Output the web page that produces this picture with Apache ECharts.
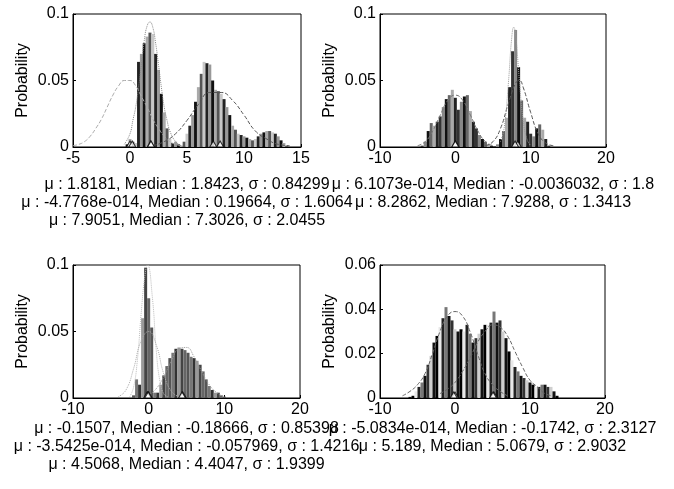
<!DOCTYPE html>
<html>
<head>
<meta charset="utf-8">
<script src="https://cdn.jsdelivr.net/npm/echarts@6/dist/echarts.min.js"></script>
<style>html,body{margin:0;padding:0;background:#fff}#c{width:674px;height:489px}</style>
</head>
<body>
<div id="c"></div>
<script>
// ---------- DATA ----------
// Plot 1 (top-left)
const p1BinX = [-0.25,0,0.25,0.5,0.75,1,1.25,1.5,1.75,2,2.25,2.5,2.75,3,3.25,3.5,3.75,4,4.25,4.5,4.75,5,5.25,5.5,5.75,6,6.25,6.5,6.75,7,7.25,7.5,7.75,8,8.25,8.5,8.75,9,9.25,9.5,9.75,10,10.25,10.5,10.75,11,11.25,11.5,11.75,12,12.25,12.5,12.75,13,13.25,13.5,13.75];
const p1BinY = [0.002,0.006,0.004,0.003,0.064,0.07,0.078,0.083,0.086,0.085,0.07,0.058,0.04,0.026,0.014,0.006,0.003,0.004,0.002,0.001,0.004,0.01,0.016,0.024,0.034,0.045,0.055,0.064,0.063,0.062,0.05,0.043,0.042,0.04,0.036,0.03,0.024,0.016,0.013,0.01,0.009,0.008,0.007,0.006,0.005,0.006,0.008,0.01,0.011,0.012,0.012,0.011,0.01,0.008,0.005,0.003,0.001];
const p1CurveAX = [-5,-4.5,-4,-3.5,-3,-2.5,-2,-1.5,-1,-0.5,0,0.5,1,1.5,2,2.5,3,3.5,4,4.5];
const p1CurveAY = [0.001,0.002,0.004,0.008,0.014,0.021,0.03,0.039,0.046,0.05,0.05,0.046,0.038,0.03,0.021,0.014,0.008,0.004,0.002,0.001];
const p1CurveBX = [-0.5,0,0.25,0.5,0.75,1,1.25,1.5,1.75,2,2.25,2.5,2.75,3,3.25,3.5,4,4.5];
const p1CurveBY = [0.002,0.01,0.02,0.03,0.045,0.062,0.08,0.091,0.094,0.09,0.078,0.062,0.045,0.03,0.02,0.012,0.004,0.001];
const p1CurveCX = [2,3,4,5,6,7,8,9,10,11,12,13,14];
const p1CurveCY = [0.001,0.004,0.01,0.02,0.032,0.041,0.041,0.035,0.024,0.012,0.006,0.002,0.001];
const p1Means = [1.8181, -4.7768e-14, 7.9051];
const p1Medians = [1.8423, 0.19664, 7.3026];

// Plot 2 (top-right)
const p2BinX = [-4.4,-4,-3.6,-3.2,-2.8,-2.4,-2,-1.6,-1.2,-0.8,-0.4,0,0.4,0.8,1.2,1.6,2,2.4,2.8,3.2,3.6,4,4.4,4.8,5.2,5.6,6,6.4,6.8,7.2,7.6,8,8.4,8.8,9.2,9.6,10,10.4,10.8,11.2,11.6,12,12.4];
const p2BinY = [0.001,0.004,0.012,0.018,0.016,0.019,0.023,0.03,0.036,0.039,0.043,0.037,0.028,0.034,0.038,0.039,0.027,0.019,0.014,0.009,0.006,0.004,0.002,0.001,0.0005,0.002,0.006,0.012,0.022,0.045,0.072,0.088,0.06,0.035,0.022,0.019,0.01,0.008,0.014,0.017,0.013,0.006,0.001];
const p2CurveAX = [-5,-4,-3,-2,-1,0,1,2,3,4,5];
const p2CurveAY = [0.001,0.004,0.012,0.024,0.035,0.039,0.035,0.024,0.012,0.004,0.001];
const p2CurveBX = [4,5,6,7,8,8.5,9,10,11,12,13];
const p2CurveBY = [0.001,0.004,0.014,0.032,0.048,0.05,0.045,0.026,0.01,0.003,0.001];
const p2CurveCX = [6,6.5,7,7.5,7.75,8,8.5,9,9.5,10];
const p2CurveCY = [0.004,0.015,0.045,0.083,0.09,0.085,0.05,0.02,0.006,0.001];
const p2Means = [6.1073e-14, 8.2862];
const p2Medians = [-0.0036032, 7.9288];

// Plot 3 (bottom-left)
const p3BinX = [-2,-1.6,-1.2,-0.8,-0.4,0,0.4,0.8,1.2,1.6,2,2.4,2.8,3.2,3.6,4,4.4,4.8,5.2,5.6,6,6.4,6.8,7.2,7.6,8,8.4,8.8,9.2,9.6,10];
const p3BinY = [0.002,0.014,0.01,0.06,0.098,0.075,0.053,0.004,0.004,0.01,0.017,0.024,0.03,0.034,0.037,0.038,0.037,0.036,0.034,0.031,0.03,0.028,0.025,0.02,0.014,0.009,0.006,0.004,0.004,0.002,0.001];
const p3CurveAX = [-2.5,-2,-1.5,-1,-0.5,-0.15,0.5,1,1.5,2,2.5];
const p3CurveAY = [0.001,0.008,0.028,0.063,0.092,0.1,0.075,0.036,0.012,0.003,0.001];
const p3CurveBX = [-4,-3,-2,-1,0,1,2,3,4];
const p3CurveBY = [0.001,0.006,0.022,0.043,0.05,0.04,0.018,0.005,0.001];
const p3CurveCX = [0,1,2,3,4,5,6,7,8,9,10];
const p3CurveCY = [0.002,0.007,0.016,0.028,0.037,0.038,0.031,0.02,0.01,0.004,0.001];
const p3Means = [-0.1507, -3.5425e-14, 4.5068];
const p3Medians = [-0.18666, -0.057969, 4.4047];

// Plot 4 (bottom-right)
const p4BinX = [-6,-5.6,-5.2,-4.8,-4.4,-4,-3.6,-3.2,-2.8,-2.4,-2,-1.6,-1.2,-0.8,-0.4,0,0.4,0.8,1.2,1.6,2,2.4,2.8,3.2,3.6,4,4.4,4.8,5.2,5.6,6,6.4,6.8,7.2,7.6,8,8.4,8.8,9.2,9.6,10,10.4,10.8,11.2,11.6,12,12.4,12.8,13.2,13.6];
const p4BinY = [0.0005,0.001,0.003,0.005,0.007,0.01,0.015,0.019,0.025,0.028,0.032,0.036,0.041,0.037,0.035,0.031,0.03,0.031,0.03,0.033,0.029,0.025,0.027,0.029,0.031,0.033,0.033,0.034,0.039,0.034,0.035,0.03,0.027,0.021,0.017,0.014,0.012,0.01,0.009,0.008,0.007,0.006,0.005,0.005,0.006,0.006,0.005,0.005,0.003,0.001];
const p4CurveAX = [-7,-6,-5,-4,-3,-2,-1,0,1,2,3,4,5,6,7];
const p4CurveAY = [0.001,0.003,0.006,0.011,0.02,0.03,0.037,0.039,0.037,0.03,0.02,0.011,0.006,0.003,0.001];
const p4CurveBX = [-2,-1,0,1,2,3,4,5,6,7,8,9,10,11,12,13];
const p4CurveBY = [0.002,0.004,0.007,0.012,0.018,0.025,0.03,0.033,0.032,0.028,0.021,0.014,0.008,0.005,0.002,0.001];
const p4Means = [-5.0834e-14, 5.189];
const p4Medians = [-0.1742, 5.0679];

// Axis ranges / tick labels
const xRanges = [[-5,15,5],[-10,20,10],[-10,20,10],[-10,20,10]];
const yRanges = [[0,0.1,0.05],[0,0.1,0.05],[0,0.1,0.05],[0,0.06,0.02]];
const yName = 'Probability';

// Annotation texts
const p1Text = ['\u03bc : 1.8181, Median : 1.8423, \u03c3 : 0.84299', '\u03bc : -4.7768e-014, Median : 0.19664, \u03c3 : 1.6064', '\u03bc : 7.9051, Median : 7.3026, \u03c3 : 2.0455'];
const p2Text = ['\u03bc : 6.1073e-014, Median : -0.0036032, \u03c3 : 1.8', '\u03bc : 8.2862, Median : 7.9288, \u03c3 : 1.3413'];
const p3Text = ['\u03bc : -0.1507, Median : -0.18666, \u03c3 : 0.85398', '\u03bc : -3.5425e-014, Median : -0.057969, \u03c3 : 1.4216', '\u03bc : 4.5068, Median : 4.4047, \u03c3 : 1.9399'];
const p4Text = ['\u03bc : -5.0834e-014, Median : -0.1742, \u03c3 : 2.3127', '\u03bc : 5.189, Median : 5.0679, \u03c3 : 2.9032'];

// ---------- LAYOUT / STYLE ----------
const FONT = '"Liberation Sans", Arial, sans-serif';
const grids = [
  {left:73, top:14, width:228, height:133},
  {left:380, top:14, width:226, height:133},
  {left:73, top:265, width:227, height:133},
  {left:380, top:265, width:225, height:133}
];
const palettes = [
  ['#111','#aaa','#555','#c8c8c8','#222','#999'],
  ['#333','#888','#111','#666','#aaa','#222'],
  ['#555','#777','#333','#999','#444','#666'],
  ['#111','#000','#e8e8e8','#222','#777','#111','#333','#cfcfcf']
];
const barWidths = [3, 3, 3, 3];
const textTop = [185, 185, 429, 429];
const lineGap = 18;

const plots = [
  {binX:p1BinX, binY:p1BinY, curves:[[p1CurveAX,p1CurveAY,'#aaa','dashed'],[p1CurveBX,p1CurveBY,'#888','dotted'],[p1CurveCX,p1CurveCY,'#555','dashed']], means:p1Means, medians:p1Medians, text:p1Text},
  {binX:p2BinX, binY:p2BinY, curves:[[p2CurveAX,p2CurveAY,'#777','dashed'],[p2CurveBX,p2CurveBY,'#555','dashed'],[p2CurveCX,p2CurveCY,'#999','dotted']], means:p2Means, medians:p2Medians, text:p2Text},
  {binX:p3BinX, binY:p3BinY, curves:[[p3CurveAX,p3CurveAY,'#bbb','dotted'],[p3CurveBX,p3CurveBY,'#aaa','dotted'],[p3CurveCX,p3CurveCY,'#999','dotted']], means:p3Means, medians:p3Medians, text:p3Text},
  {binX:p4BinX, binY:p4BinY, curves:[[p4CurveAX,p4CurveAY,'#666','dashed'],[p4CurveBX,p4CurveBY,'#666','dashed']], means:p4Means, medians:p4Medians, text:p4Text}
];

const zip = (a,b) => a.map((v,i)=>[v,b[i]]);

const xAxis = [], yAxis = [], series = [], graphic = [];
plots.forEach((p, k) => {
  xAxis.push({
    type:'value', gridIndex:k, min:xRanges[k][0], max:xRanges[k][1], interval:xRanges[k][2],
    splitLine:{show:false},
    axisLine:{show:true, onZero:false, lineStyle:{color:'#000', width:1}},
    axisTick:{show:true, inside:true, length:3, lineStyle:{color:'#000'}},
    axisLabel:{color:'#000', fontSize:16, fontFamily:FONT, margin:4}
  });
  yAxis.push({
    type:'value', gridIndex:k, min:yRanges[k][0], max:yRanges[k][1], interval:yRanges[k][2],
    name:yName, nameLocation:'middle', nameGap:42, nameRotate:90,
    nameTextStyle:{color:'#000', fontSize:16, fontFamily:FONT},
    splitLine:{show:false},
    axisLine:{show:true, onZero:false, lineStyle:{color:'#000', width:1}},
    axisTick:{show:true, inside:true, length:3, lineStyle:{color:'#000'}},
    axisLabel:{color:'#000', fontSize:16, fontFamily:FONT, margin:4}
  });
  const pal = palettes[k];
  series.push({
    type:'bar', xAxisIndex:k, yAxisIndex:k, barWidth:barWidths[k], silent:true,
    data: zip(p.binX, p.binY),
    itemStyle:{color:(prm)=>pal[prm.dataIndex % pal.length]},
    z:2
  });
  p.curves.forEach(c => {
    series.push({
      type:'line', xAxisIndex:k, yAxisIndex:k, data:zip(c[0], c[1]), smooth:true,
      symbol:'none', silent:true, lineStyle:{color:c[2], width:1, type:c[3]}, z:3
    });
  });
  series.push({
    type:'scatter', xAxisIndex:k, yAxisIndex:k, silent:true,
    data: p.means.map(m=>[m,0]).concat(p.medians.map(m=>[m,0])),
    symbol:'triangle', symbolSize:[7,6], symbolOffset:[0,-3],
    itemStyle:{color:'#fff', borderColor:'#000', borderWidth:1}, z:4
  });
  const cx = grids[k].left + grids[k].width/2;
  p.text.forEach((t, i) => {
    graphic.push({
      type:'text', x:cx, y:textTop[k] + i*lineGap, z:10,
      style:{text:t, fill:'#000', font:'16px ' + FONT, textAlign:'center', textVerticalAlign:'middle'}
    });
  });
});

const chart = echarts.init(document.getElementById('c'), null, {renderer:'canvas'});
chart.setOption({
  animation:false,
  backgroundColor:'#fff',
  grid: grids.map(g => Object.assign({show:true, borderColor:'#000', borderWidth:1, backgroundColor:'transparent', containLabel:false}, g)),
  xAxis, yAxis, series, graphic
});
</script>
</body>
</html>
